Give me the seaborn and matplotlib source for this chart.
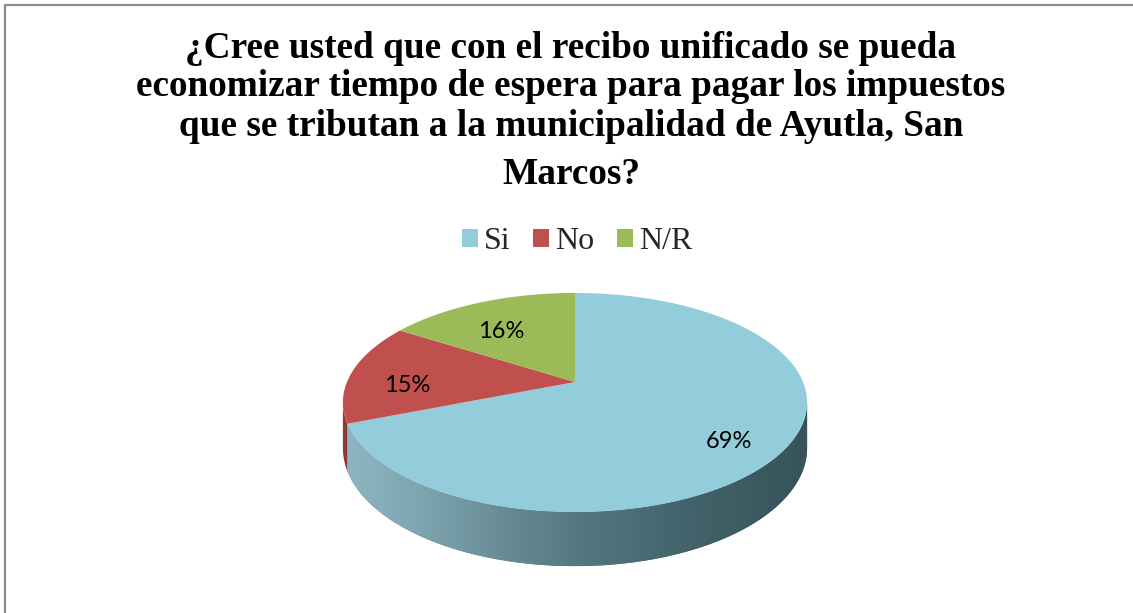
import numpy as np
import matplotlib
matplotlib.use("Agg")
import matplotlib.pyplot as plt
import seaborn as sns
from matplotlib.colors import LinearSegmentedColormap
from matplotlib.patches import Patch
from matplotlib.lines import Line2D

# data
categories = ["Si", "No", "N/R"]
values = [69, 15, 16]
title_lines = [
    "¿Cree usted que con el recibo unificado se pueda",
    "economizar tiempo de espera para pagar los impuestos",
    "que se tributan a la municipalidad de Ayutla, San",
    "Marcos?",
]

top_colors = ["#93CDDC", "#C0504D", "#9BBB59"]
side_colors = ["#557880", "#8E3836", "#6F8A3A"]
si_side_cmap = LinearSegmentedColormap.from_list(
    "si_side", [(0.0, "#8FB6C3"), (0.15, "#7FA6B2"), (0.5, "#557880"),
                (0.75, "#42636B"), (1.0, "#37525A")])

sns.set_theme(style="white")
plt.rcParams["font.family"] = ["Liberation Serif", "DejaVu Sans"]

W, H = 1133, 613
fig = plt.figure(figsize=(W / 100, H / 100), dpi=100)
ax = fig.add_axes([0, 0, 1, 1])
ax.axis("off")

# pie geometry (pixels): centre, x radius, y radius, perspective, depth
cx, cy = 575, 382
R, A, K, D = 228, 105.7, 0.187, 44
depth = D / A


def project(t, r=1.0):
    u, v = r * np.cos(t), r * np.sin(t)
    w = 1 + K * v
    return u / w, v / w, w


fracs = np.array(values) / np.sum(values)
edges = np.deg2rad(90 - 360 * np.concatenate([[0], np.cumsum(fracs)]))

# visible side of the cylinder
s = np.arcsin(K)
vis_lo, vis_hi = -np.pi + s, -s
xmin_sil = project(-np.pi + s)[0]
xmax_sil = project(-s)[0]

for i in range(len(values)):
    hi, lo = edges[i], edges[i + 1]
    for shift in (-2 * np.pi, 0, 2 * np.pi):
        a, b = max(lo + shift, vis_lo), min(hi + shift, vis_hi)
        if a >= b:
            continue
        t = np.linspace(a, b, 200)
        x, y, w = project(t)
        xs = np.concatenate([x, x[::-1]])
        ys = np.concatenate([y, (y - depth / w)[::-1]])
        poly = ax.fill(xs, ys, color=side_colors[i], lw=0, zorder=1)[0]
        if i == 0:
            grad = np.linspace(0, 1, 256).reshape(1, -1)
            im = ax.imshow(grad, extent=[xmin_sil, xmax_sil, ys.min(), ys.max()],
                           cmap=si_side_cmap, aspect="auto", zorder=1.5,
                           interpolation="bilinear")
            im.set_clip_path(poly)

# top surface
for i in range(len(values)):
    t = np.linspace(edges[i], edges[i + 1], 300)
    x, y, _ = project(t)
    ax.fill(np.concatenate([[0], x]), np.concatenate([[0], y]),
            color=top_colors[i], lw=0, zorder=2)
    mid = (edges[i] + edges[i + 1]) / 2
    lx, ly, _ = project(mid, 0.75)
    ax.text(lx, ly - depth / 4, f"{values[i]}%", ha="center", va="center",
            fontsize=17, family=["Lato", "DejaVu Sans"], color="black",
            zorder=3)

ax.set_xlim(-cx / R, (W - cx) / R)
ax.set_ylim(-(H - cy) / A, cy / A)

# title
baselines = [58, 96, 136, 184]
for line, yb in zip(title_lines, baselines):
    fig.text(571 / W, 1 - yb / H, line, ha="center", va="baseline",
             fontsize=26.8, fontweight="bold", color="black")

# legend
handles = [Patch(facecolor=c, edgecolor="none") for c in top_colors]
fig.legend(handles, categories, loc="center", bbox_to_anchor=(577 / W, 1 - 242 / H),
           ncol=3, frameon=False, fontsize=23, handlelength=0.5,
           handleheight=0.5, handletextpad=0.2, columnspacing=0.7)

# chart frame (top and left edges visible)
fig.add_artist(Line2D([5.5 / W, 1], [1 - 4.5 / H, 1 - 4.5 / H], color="#8C8C8C", lw=1.6))
fig.add_artist(Line2D([5.5 / W, 5.5 / W], [0, 1 - 4.5 / H], color="#8C8C8C", lw=1.6))

fig.savefig("out.png", dpi=100)
